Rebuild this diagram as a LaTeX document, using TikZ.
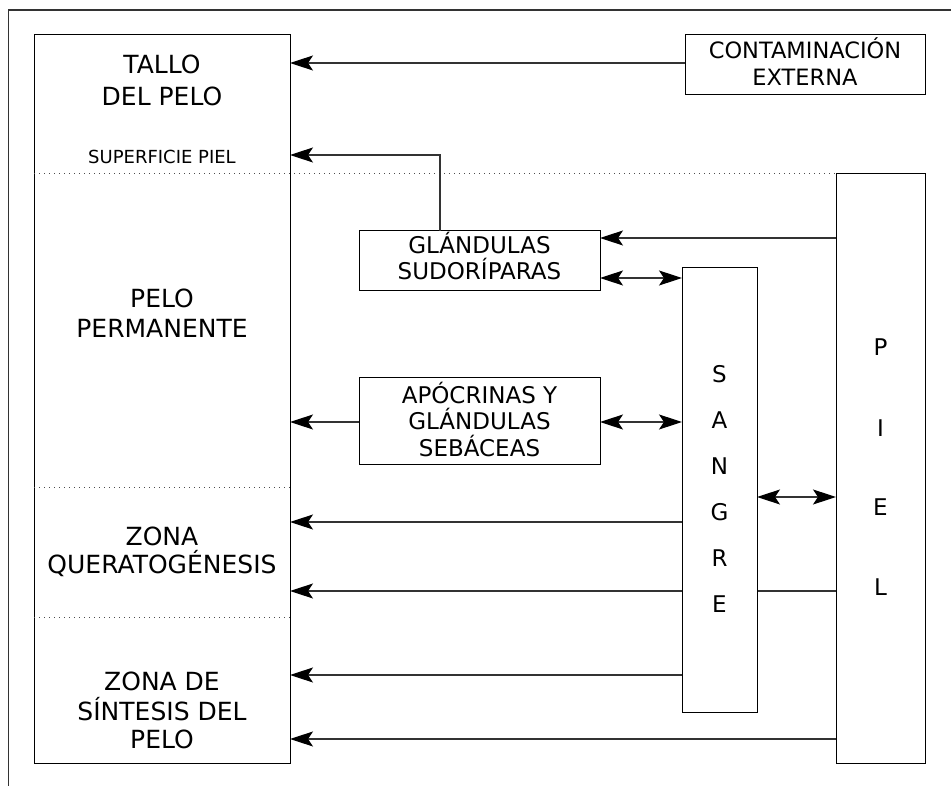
\documentclass[tikz,border=0pt]{standalone}
\usepackage{fontspec}
\setmainfont{DejaVu Sans}
\usetikzlibrary{arrows.meta,backgrounds}
\begin{document}
\begin{tikzpicture}[x=1pt,y=-1pt,
  >={Stealth[length=23pt,width=15pt,inset=5pt,color=black]},
  boxnode/.style={draw=black,line width=1pt,fill=white,inner sep=0pt,outer sep=0pt},
  arr/.style={draw=black!80,line width=1.2pt,->},
  darr/.style={draw=black!80,line width=1.2pt,<->},
  dotline/.style={draw=black!70,line width=0.8pt,dash pattern=on 0.8pt off 4.2pt},
  bigtxt/.style={inner sep=0pt,anchor=base,font=\fontsize{25}{30}\selectfont},
  midtxt/.style={inner sep=0pt,anchor=base,font=\fontsize{23}{27}\selectfont},
  smalltxt/.style={inner sep=0pt,anchor=base,font=\fontsize{18}{21}\selectfont}]
\useasboundingbox (0,0) rectangle (951,786);
% outer frame (cropped)
\draw[black!80,line width=1.2pt] (8.5,786) |- (951,10);

% boxes
\node[boxnode,minimum width=256pt,minimum height=728pt] (left) at (162,399) {};
\node[boxnode,minimum width=240pt,minimum height=60pt] (cont) at (805,65) {};
\node[boxnode,minimum width=241pt,minimum height=60pt] (sud) at (479.5,261) {};
\node[boxnode,minimum width=241pt,minimum height=86pt] (apo) at (479.5,421) {};
\node[boxnode,minimum width=75pt,minimum height=444pt] (sang) at (719.5,490) {};
\node[boxnode,minimum width=89pt,minimum height=589pt] (piel) at (880.5,468.5) {};

% dotted separators
\draw[dotline] (left.west |- 0,173.5) -- (piel.west |- 0,173.5);
\draw[dotline] (left.west |- 0,487) -- (left.east |- 0,487);
\draw[dotline] (left.west |- 0,617) -- (left.east |- 0,617);

% texts in left box
\node[bigtxt] (t1) at (162,74) {TALLO};
\node[bigtxt] (t2) at (162,106) {DEL PELO};
\node[smalltxt] (t3) at (162,163.3) {SUPERFICIE PIEL};
\node[bigtxt] (t4) at (162,308) {PELO};
\node[bigtxt] (t5) at (162,338) {PERMANENTE};
\node[bigtxt] (t6) at (162,545) {ZONA};
\node[bigtxt] (t7) at (162,573) {QUERATOGÉNESIS};
\node[bigtxt] (t8) at (162,690) {ZONA DE};
\node[bigtxt] (t9) at (162,720) {SÍNTESIS DEL};
\node[bigtxt] (t10) at (162,748) {PELO};

% other texts
\node[midtxt,font=\fontsize{22.5}{27}\selectfont] (c1) at (805,58.3) {CONTAMINACIÓN};
\node[midtxt,font=\fontsize{22.5}{27}\selectfont] (c2) at (805,86) {EXTERNA};
\node[midtxt] (s1) at (479.5,253.3) {GLÁNDULAS};
\node[midtxt] (s2) at (479.5,280) {SUDORÍPARAS};
\node[midtxt] (a1) at (479.5,403) {APÓCRINAS Y};
\node[midtxt] (a2) at (479.5,429.5) {GLÁNDULAS};
\node[midtxt] (a3) at (479.5,456) {SEBÁCEAS};

\node[midtxt] (g1) at (719.5,382.4) {S};
\node[midtxt] (g2) at (719.5,428.4) {A};
\node[midtxt] (g3) at (719.5,474.4) {N};
\node[midtxt] (g4) at (719.5,520.4) {G};
\node[midtxt] (g5) at (719.5,566.4) {R};
\node[midtxt] (g6) at (719.5,612.4) {E};

\node[midtxt] (p1) at (880.5,356) {P};
\node[midtxt] (p2) at (880.5,436.4) {I};
\node[midtxt] (p3) at (880.5,515.4) {E};
\node[midtxt] (p4) at (880.5,595.4) {L};

% connectors
\draw[arr] (cont.west |- 0,63) -- (left.east |- 0,63);
\draw[arr] (sud.north -| 440,0) |- (left.east |- 0,155);
\draw[arr] (piel.west |- 0,238) -- (sud.east |- 0,238);
\draw[darr] (sud.east |- 0,278) -- (sang.west |- 0,278);
\draw[arr] (apo.west |- 0,422) -- (left.east |- 0,422);
\draw[darr] (apo.east |- 0,422) -- (sang.west |- 0,422);
\draw[darr] (sang.east |- 0,497) -- (piel.west |- 0,497);
\draw[arr] (sang.west |- 0,522) -- (left.east |- 0,522);
\begin{scope}[on background layer]
\draw[arr] (piel.west |- 0,591) -- (left.east |- 0,591);
\end{scope}
\draw[arr] (sang.west |- 0,675) -- (left.east |- 0,675);
\draw[arr] (piel.west |- 0,739) -- (left.east |- 0,739);
\end{tikzpicture}
\end{document}
